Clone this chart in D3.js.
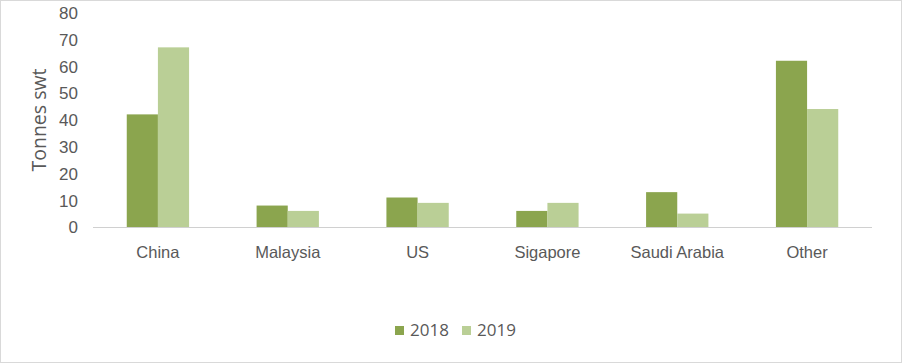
<!DOCTYPE html>
<html><head><meta charset="utf-8">
<script src="https://cdn.jsdelivr.net/npm/d3@7"></script>
<style>body{margin:0;background:#fff;}svg{display:block;font-family:"Open Sans",sans-serif;}</style>
</head><body><svg id="c" width="902" height="363"></svg>
<script>
const categories = ["China","Malaysia","US","Sigapore","Saudi Arabia","Other"];
const seriesNames = ["2018","2019"];
const values2018 = [42, 8, 11, 6, 13, 62];
const values2019 = [67, 6, 9, 9, 5, 44];
const yTicks = [0,10,20,30,40,50,60,70,80];
const colors = ["#8ba54e","#bacf96"];

const svg = d3.select("#c");
svg.append("rect").attr("x",0.5).attr("y",0.5).attr("width",901).attr("height",362)
  .attr("fill","#fff").attr("stroke","#d9d9d9");

const x = d3.scaleBand().domain(categories).range([93,872]).paddingInner(0.52).paddingOuter(0.26);
const y = d3.scaleLinear().domain([0,80]).range([227,12.5]);
const xs = d3.scaleBand().domain(seriesNames).range([0,x.bandwidth()]);

const data = categories.map((c,i)=>({c, v:[values2018[i],values2019[i]]}));

svg.append("line").attr("x1",93).attr("x2",872).attr("y1",y(0)+0.5).attr("y2",y(0)+0.5)
  .attr("stroke","#d0d0d0").attr("stroke-width",1);

const g = svg.append("g");
data.forEach(d=>{
  seriesNames.forEach((s,j)=>{
    g.append("rect").attr("x",x(d.c)+xs(s)).attr("width",xs.bandwidth())
     .attr("y",y(d.v[j])).attr("height",y(0)-y(d.v[j])).attr("fill",colors[j]);
  });
});

const yAxis = d3.axisLeft(y).tickValues(yTicks).tickSize(0).tickPadding(0);
const ya = svg.append("g").attr("transform","translate(78,0)").call(yAxis);
ya.select(".domain").remove();
ya.selectAll("text").attr("fill","#595959").style("font-size","17px").attr("dy","0.35em");

const xAxis = d3.axisBottom(x).tickSize(0).tickPadding(0);
const xa = svg.append("g").attr("transform","translate(0,258)").call(xAxis);
xa.select(".domain").remove();
xa.selectAll("text").attr("fill","#595959").style("font-size","16.5px").attr("y",0).attr("dy","0");

svg.append("text").attr("transform","translate(46,120) rotate(-90)").attr("text-anchor","middle")
  .attr("fill","#595959").style("font-size","19.5px").text("Tonnes swt");

const lg = svg.append("g");
const legX = [395, 462];
seriesNames.forEach((s,j)=>{
  lg.append("rect").attr("x",legX[j]).attr("y",326).attr("width",9).attr("height",9).attr("fill",colors[j]);
  lg.append("text").attr("x",legX[j]+15).attr("y",330.5).attr("dy","0.35em").attr("fill","#595959")
    .style("font-size","17px").text(s);
});
</script></body></html>
